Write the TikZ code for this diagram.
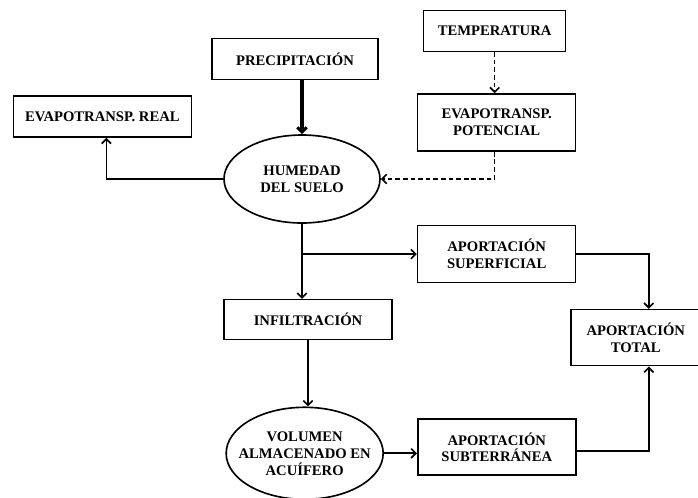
\documentclass[tikz,border=0pt]{standalone}
\usepackage{fontspec}
\setmainfont{Liberation Serif}
\usepackage{xcolor}
\usetikzlibrary{shapes,arrows,arrows.meta,positioning,calc}

\begin{document}
\begin{tikzpicture}[every node/.style={font=\fontsize{12.5}{14.5}\selectfont\bfseries, align=center, line width=1.4pt}, every label/.style={font=\fontsize{12.5}{14.5}\selectfont\bfseries, align=center}, line width=1.4pt, >={Straight Barb[length=4pt,width=8pt]}]
				\useasboundingbox (-9.06,5.37) rectangle (11.88,-9.54);
				\node[ellipse, draw, minimum width=4.68cm, minimum height=2.64cm] (humedad) {HUMEDAD\\DEL SUELO};
				\node[rectangle, draw, minimum width=4.98cm, minimum height=1.23cm, above=1.62cm of humedad, xshift=-0.21cm] (precip) {PRECIPITACIÓN};
				\node[rectangle, draw, minimum width=5.34cm, minimum height=1.23cm, left=0.93cm of humedad, yshift=1.875cm] (evreal) {EVAPOTRANSP. REAL};
				\node[rectangle, draw, minimum width=4.74cm, minimum height=1.71cm, right=1.08cm of humedad, yshift=1.695cm] (evpot) {EVAPOTRANSP.\\POTENCIAL};
				\node[rectangle, draw, minimum width=4.26cm, minimum height=1.23cm, above=1.23cm of evpot, xshift=-0.06cm] (temp) {TEMPERATURA};
				\node[rectangle, draw, minimum width=5.04cm, minimum height=1.2cm, below=2.25cm of humedad, xshift=0.18cm] (infil) {INFILTRACIÓN};
				\node[rectangle, draw, minimum width=4.74cm, minimum height=1.71cm, below=2.19cm of evpot] (apsup) {APORTACIÓN\\SUPERFICIAL};
				\node[ellipse, draw, minimum width=4.71cm, minimum height=2.76cm, below=1.98cm of infil, xshift=-0.1cm,
					label={center:VOLUMEN\\ALMACENADO EN\\ACUÍFERO}] (volumen) {};
				\node[rectangle, draw, minimum width=4.74cm, minimum height=1.68cm, right=0.99cm of volumen, yshift=0.18cm] (apsub) {APORTACIÓN\\SUBTERRÁNEA};
				\node[rectangle, draw, minimum width=3.87cm, minimum height=1.68cm, right=-0.18cm of apsup, yshift=-2.505cm] (aptot) {APORTACIÓN\\TOTAL};
				
				\draw[->, line width=2.6pt] (precip.south -| humedad) -- (humedad);
				\draw[->] (humedad.west) -| ([xshift=0.12cm]evreal.south);
				\draw[->, dash pattern=on 4pt off 2.5pt] (temp) -- (temp |- evpot.north);
				\draw[->, dash pattern=on 4pt off 2.5pt] ([xshift=-0.06cm]evpot.south) |- (humedad.east);
				\draw[->] (humedad.south) -- (humedad.south |- infil.north);
				\draw[->] (humedad.south |- apsup.west) -- (apsup.west);
				\draw[->] (infil.south) -- (infil.south |- volumen.north);
				\draw[->] (volumen.east) -- (volumen.east -| apsub.west);
				\draw[->] (apsup.east) -| ([xshift=0.39cm]aptot.north);
				\draw[->] ([yshift=-0.12cm]apsub.east) -| ([xshift=0.39cm]aptot.south);
			\end{tikzpicture}
\end{document}
